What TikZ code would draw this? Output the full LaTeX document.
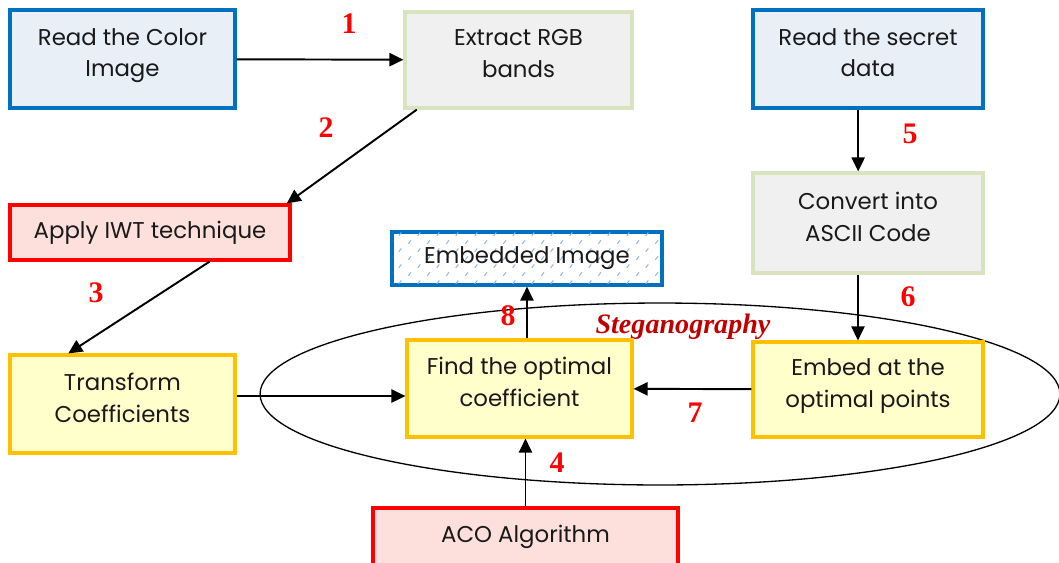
\documentclass[tikz,border=0pt]{standalone}
\usepackage{fontspec}
\setmainfont{Poppins}
\newfontfamily\numserif{Liberation Serif}
\usetikzlibrary{arrows.meta}
\usetikzlibrary{shapes.geometric}
\usetikzlibrary{patterns}
\definecolor{bordblue}{HTML}{0070C0}
\definecolor{fillblue}{HTML}{E9EFF7}
\definecolor{bordgreen}{HTML}{D7E4BD}
\definecolor{fillgrey}{HTML}{F0F0F0}
\definecolor{bordred}{HTML}{FF0000}
\definecolor{fillred}{HTML}{FDE0DC}
\definecolor{bordyellow}{HTML}{FFC000}
\definecolor{fillyellow}{HTML}{FFFFCC}
\definecolor{steganred}{HTML}{C00000}
\definecolor{squigblue}{HTML}{8DB3E2}
% small blue marks for the output image
\pgfdeclarepatternformonly{squiggles}{\pgfqpoint{0pt}{0pt}}{\pgfqpoint{11pt}{9pt}}{\pgfqpoint{11pt}{9pt}}{
  \pgfsetlinewidth{0.55pt}
  \pgfpathmoveto{\pgfqpoint{2pt}{1.3pt}}
  \pgfpathcurveto{\pgfqpoint{3.6pt}{1.6pt}}{\pgfqpoint{1.9pt}{2.9pt}}{\pgfqpoint{3.5pt}{3.2pt}}
  \pgfpathmoveto{\pgfqpoint{7.5pt}{5.8pt}}
  \pgfpathcurveto{\pgfqpoint{9.1pt}{6.1pt}}{\pgfqpoint{7.4pt}{7.4pt}}{\pgfqpoint{9pt}{7.7pt}}
  \pgfusepath{stroke}
}
\tikzset{
  box/.style={draw, line width=1.8pt, align=center, inner sep=2pt,
    text=black!90, font=\fontsize{13}{18}\selectfont},
  twoline/.style={text depth=7.4pt},
  bluebox/.style={box, draw=bordblue, fill=fillblue},
  greybox/.style={box, draw=bordgreen, fill=fillgrey},
  redbox/.style={box, draw=bordred, fill=fillred},
  yellowbox/.style={box, draw=bordyellow, fill=fillyellow},
  stepnum/.style={text=red, font=\numserif\bfseries\fontsize{17}{17}\selectfont},
  flow/.style={line width=1.1pt, -{Triangle[length=8pt,width=7.5pt]}}
}

\begin{document}
\begin{tikzpicture}[x=0.02cm, y=-0.02cm]
\useasboundingbox (0,0) rectangle (1059,562);
% steganography region
\node[draw, ellipse, line width=0.75pt, minimum width=16cm, minimum height=3.64cm] (stego) at (660,394) {};
\node[text=steganred, font=\numserif\bfseries\itshape\fontsize{16}{16}\selectfont] (stegolabel) at (683,327) {Steganography};
% boxes
\node[bluebox, twoline, minimum width=4.5cm, minimum height=1.96cm] (read) at (122.5,59) {Read the Color\\Image};
\node[greybox, twoline, minimum width=4.54cm, minimum height=1.92cm] (extract) at (518.5,60) {Extract RGB\\bands};
\node[bluebox, twoline, minimum width=4.6cm, minimum height=1.96cm] (secret) at (868,59) {Read the secret\\data};
\node[redbox, minimum width=5.6cm, minimum height=1.1cm] (iwt) at (150,232.5) {Apply IWT technique};
\node[box, draw=bordblue, fill=white, minimum width=5.4cm, minimum height=1.06cm,
  postaction={pattern=squiggles, pattern color=squigblue}] (embimg) at (527,258.5) {Embedded Image};
\node[greybox, twoline, minimum width=4.6cm, minimum height=2cm] (ascii) at (868,223) {Convert into\\ASCII Code};
\node[yellowbox, twoline, minimum width=4.5cm, minimum height=1.96cm] (transform) at (122.5,404) {Transform\\Coefficients};
\node[yellowbox, twoline, minimum width=4.5cm, minimum height=1.94cm] (optimal) at (519.5,388.5) {Find the optimal\\coefficient};
\node[yellowbox, twoline, minimum width=4.6cm, minimum height=1.9cm] (embed) at (868,389.5) {Embed at the\\optimal points};
\node[redbox, minimum width=6.1cm, minimum height=1.16cm] (aco) at (525.5,537) {ACO Algorithm};
% connectors
\draw[flow] (read) -- (extract);
\draw[flow] (extract.206) -- (iwt.12.7);
\draw[flow] (iwt.-26.6) -- (transform.137);
\draw[flow] (transform.4) -- (transform.4 -| optimal.west);
\draw[flow] (aco.north) -- (aco.north |- optimal.south);
\draw[flow] (secret.259.6) -- (secret.259.6 |- ascii.north);
\draw[flow] (ascii.259.8) -- (ascii.259.8 |- embed.north);
\draw[flow] (embed) -- (optimal);
\draw[flow] (embimg.south |- optimal.north) -- (embimg.south);
% step numbers
\node[stepnum] (n1) at (349,24) {1};
\node[stepnum] (n2) at (326,128) {2};
\node[stepnum] (n3) at (96,293) {3};
\node[stepnum] (n4) at (557,463) {4};
\node[stepnum] (n5) at (910,134) {5};
\node[stepnum] (n6) at (908,297) {6};
\node[stepnum] (n7) at (695,413) {7};
\node[stepnum] (n8) at (508,316) {8};
\end{tikzpicture}
\end{document}
